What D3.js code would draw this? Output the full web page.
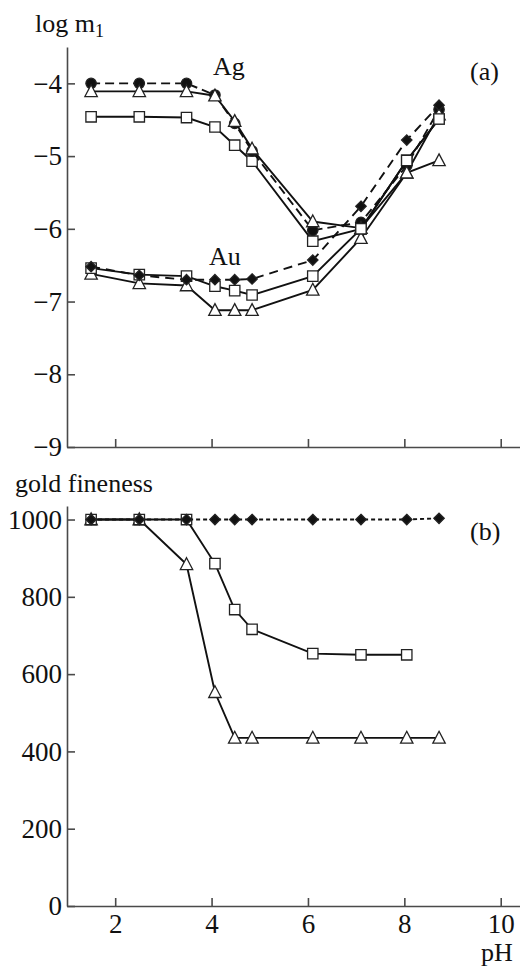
<!DOCTYPE html>
<html>
<head>
<meta charset="utf-8">
<script src="https://cdn.jsdelivr.net/npm/d3@7"></script>
<style>
  html, body { margin: 0; padding: 0; background: #fff; }
  svg { display: block; }
  text { font-family: "Liberation Serif", "DejaVu Serif", serif; fill: #111; }
</style>
</head>
<body>
<svg id="chart" width="520" height="969"></svg>
<script>
// pH values at which the solutions were sampled
const pH = [1.5, 2.5, 3.48, 4.07, 4.48, 4.84, 6.1, 7.1, 8.05, 8.72];

// (a) log m1 of silver
const agCircle   = [-4.0, -4.0, -4.0, -4.16, -4.55, -4.93, -6.02, -5.91, -5.13, -4.36];
const agTriangle = [-4.11, -4.11, -4.11, -4.17, -4.52, -4.9, -5.9, -5.99, -5.23, -5.06];
const agSquare   = [-4.46, -4.46, -4.47, -4.6, -4.85, -5.07, -6.17, -6.0, -5.06, -4.49];

// (a) log m1 of gold
const auDiamond  = [-6.52, -6.64, -6.7, -6.7, -6.7, -6.69, -6.43, -5.69, -4.78, -4.30];
const auSquare   = [-6.54, -6.63, -6.65, -6.79, -6.85, -6.91, -6.65, -6.0, -5.06, -4.49];
const auTriangle = [-6.62, -6.75, -6.78, -7.12, -7.12, -7.12, -6.84, -6.13, -5.23, -4.43];

// (b) gold fineness
const fineDiamond  = [1000, 1000, 1000, 1000, 1000, 1000, 1000, 1000, 1000, 1003];
const fineSquare   = [1000, 1000, 1000, 886, 767, 716, 653, 650, 650];
const fineTriangle = [1000, 1000, 884, 553, 435, 435, 435, 435, 435, 435];

// tick values
const xTicks = [2, 4, 6, 8, 10];
const logTicks = [-4, -5, -6, -7, -8, -9];
const fineTicks = [0, 200, 400, 600, 800, 1000];

const svg = d3.select("#chart");
const axisColor = "#4a4a4a";
const FS = 26;       // titles and panel labels
const TICK_FS = 27;  // tick labels
const intFmt = d3.format("d");

const x = d3.scaleLinear().domain([1, 10.4]).range([67, 520]);
const yTop = d3.scaleLinear().domain([-9, -3.5]).range([447, 47]);
const yBot = d3.scaleLinear().domain([0, 1035]).range([906, 506]);

function styleAxis(g) {
  g.attr("font-family", null).attr("font-size", null);
  g.selectAll("path.domain").attr("stroke", axisColor).attr("stroke-width", 1.6);
  g.selectAll(".tick line").attr("stroke", axisColor).attr("stroke-width", 1.6);
  g.selectAll(".tick text")
    .attr("font-family", "Liberation Serif, DejaVu Serif, serif")
    .attr("font-size", TICK_FS).attr("fill", "#111");
}

// ---- axes, panel (a)
svg.append("g").attr("transform", `translate(${x.range()[0]},0)`)
  .call(d3.axisLeft(yTop).tickValues(logTicks).tickFormat(intFmt)
    .tickSize(-8).tickSizeOuter(0).tickPadding(5))
  .call(styleAxis);
svg.append("g").attr("transform", `translate(0,${yTop(-9)})`)
  .call(d3.axisBottom(x).tickValues(xTicks).tickSize(-8).tickSizeOuter(0).tickFormat(""))
  .call(styleAxis);

// ---- axes, panel (b)
svg.append("g").attr("transform", `translate(${x.range()[0]},0)`)
  .call(d3.axisLeft(yBot).tickValues(fineTicks).tickFormat(intFmt)
    .tickSize(-8).tickSizeOuter(0).tickPadding(5))
  .call(styleAxis);
svg.append("g").attr("transform", `translate(0,${yBot(0)})`)
  .call(d3.axisBottom(x).tickValues(xTicks).tickFormat(intFmt)
    .tickSize(-8).tickSizeOuter(0).tickPadding(8))
  .call(styleAxis);

// ---- marker shapes
function markerPath(shape) {
  const p = d3.path();
  if (shape === "square") { const s = 5.2; p.rect(-s, -s, 2 * s, 2 * s); }
  else if (shape === "triangle") {
    const h = 5.6; p.moveTo(0, -h - 1); p.lineTo(h + 0.6, h - 0.4); p.lineTo(-h - 0.6, h - 0.4); p.closePath();
  }
  else if (shape === "diamond") { const r = 5.2; p.moveTo(0, -r); p.lineTo(r, 0); p.lineTo(0, r); p.lineTo(-r, 0); p.closePath(); }
  else if (shape === "circle") { p.arc(0, 0, 5.2, 0, 2 * Math.PI); }
  return p.toString();
}

function drawSeries(values, yScale, opts) {
  const pts = values.map((v, i) => [pH[i], v]);
  const line = d3.line().x(d => x(d[0])).y(d => yScale(d[1]));
  svg.append("path").datum(pts)
    .attr("d", line).attr("fill", "none")
    .attr("stroke", "#111").attr("stroke-width", 1.9)
    .attr("stroke-dasharray", opts.dash || null);
  svg.append("g").selectAll("path").data(pts).join("path")
    .attr("d", markerPath(opts.shape))
    .attr("transform", d => `translate(${x(d[0])},${yScale(d[1])})`)
    .attr("fill", opts.filled ? "#111" : "#fff")
    .attr("stroke", "#222").attr("stroke-width", 1.3);
}

// panel (a): silver
drawSeries(agSquare, yTop, { shape: "square" });
drawSeries(agCircle, yTop, { shape: "circle", filled: true, dash: "9,5" });
drawSeries(agTriangle, yTop, { shape: "triangle" });
// panel (a): gold
drawSeries(auTriangle, yTop, { shape: "triangle" });
drawSeries(auSquare, yTop, { shape: "square" });
drawSeries(auDiamond, yTop, { shape: "diamond", filled: true, dash: "9,6" });

// panel (b): fineness
drawSeries(fineTriangle, yBot, { shape: "triangle" });
drawSeries(fineSquare, yBot, { shape: "square" });
drawSeries(fineDiamond, yBot, { shape: "diamond", filled: true, dash: "4,3" });

// ---- text labels
const t1 = svg.append("text").attr("x", 35).attr("y", 32).attr("font-size", FS);
t1.append("tspan").text("log m");
t1.append("tspan").attr("font-size", 18).attr("dy", 5).text("1");

svg.append("text").attr("x", 213).attr("y", 75).attr("font-size", FS).text("Ag");
svg.append("text").attr("x", 209).attr("y", 265).attr("font-size", FS).text("Au");
svg.append("text").attr("x", 470).attr("y", 80).attr("font-size", FS).text("(a)");
svg.append("text").attr("x", 15).attr("y", 492).attr("font-size", FS).text("gold fineness");
svg.append("text").attr("x", 470).attr("y", 540).attr("font-size", FS).text("(b)");
svg.append("text").attr("x", 481).attr("y", 961).attr("font-size", FS).text("pH");
</script>
</body>
</html>
